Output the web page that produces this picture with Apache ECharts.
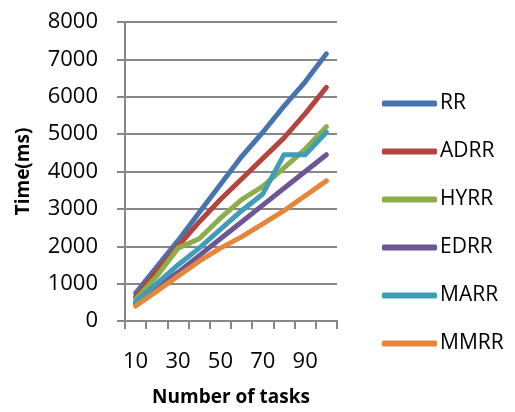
<!DOCTYPE html>
<html>
<head>
<meta charset="utf-8">
<script src="https://cdn.jsdelivr.net/npm/echarts@6/dist/echarts.min.js"></script>
<style>html,body{margin:0;padding:0;background:#fff}#c{width:515px;height:412px}</style>
</head>
<body>
<div id="c"></div>
<script>
const categories = ['10','20','30','40','50','60','70','80','90','100'];
const seriesNames = ['RR','ADRR','HYRR','EDRR','MARR','MMRR'];
const RR   = [750, 1450, 2150, 2900, 3650, 4400, 5050, 5750, 6400, 7150];
const ADRR = [650, 1350, 2000, 2650, 3250, 3800, 4350, 4900, 5550, 6250];
const HYRR = [580, 1200, 1950, 2200, 2750, 3250, 3600, 4100, 4600, 5200];
const EDRR = [470, 900, 1300, 1750, 2200, 2650, 3100, 3550, 4000, 4450];
const MARR = [520, 1000, 1500, 1950, 2450, 2950, 3400, 4450, 4450, 5050];
const MMRR = [400, 800, 1200, 1600, 1950, 2250, 2600, 2950, 3350, 3750];
const seriesData = [RR, ADRR, HYRR, EDRR, MARR, MMRR];
const colors = ['#4674AE','#B3443F','#8CAD4A','#6E5694','#3F9DB8','#E6863A'];

const font = '"Open Sans", "Liberation Sans", sans-serif';
const gray = '#878787';
const chart = echarts.init(document.getElementById('c'), null, {renderer:'canvas'});
chart.setOption({
  animation: false,
  color: colors,
  textStyle: {fontFamily: font},
  grid: {left:125, right:178, top:22, bottom:83, containLabel:false},
  legend: {
    orient: 'vertical',
    left: 377, top: 88,
    icon: 'roundRect',
    itemWidth: 55, itemHeight: 6,
    itemGap: 27,
    textStyle: {fontSize: 21, color:'#000', fontFamily: font, padding:[0,0,0,-2]},
    data: seriesNames
  },
  xAxis: {
    type: 'category',
    data: categories,
    boundaryGap: true,
    name: 'Number of tasks',
    nameLocation: 'middle',
    nameGap: 67,
    nameTextStyle: {fontSize: 19, fontWeight:'bold', color:'#000', fontFamily: font, verticalAlign:'top'},
    axisLine: {lineStyle:{color:gray, width:2}},
    axisTick: {show:true, interval:0, length:8, lineStyle:{color:gray, width:2}},
    axisLabel: {interval:1, fontSize:22, color:'#000', margin:30, fontFamily: font},
    splitLine: {show:false}
  },
  yAxis: {
    type: 'value',
    min: 0, max: 8000, interval: 1000,
    name: 'Time(ms)',
    nameLocation: 'middle',
    nameGap: 92,
    nameRotate: 90,
    nameTextStyle: {fontSize: 19, fontWeight:'bold', color:'#000', fontFamily: font},
    axisLine: {show:true, lineStyle:{color:gray, width:2}},
    axisTick: {show:true, length:8, lineStyle:{color:gray, width:2}},
    axisLabel: {fontSize:22, color:'#000', margin:27, fontFamily: font, formatter: v => String(v)},
    splitLine: {show:true, lineStyle:{color:gray, width:2}}
  },
  series: seriesNames.map((n,i)=>({
    name: n,
    type: 'line',
    data: seriesData[i],
    symbol: 'none',
    lineStyle: {width:5, cap:'round', join:'round'}
  }))
});
</script>
</body>
</html>
